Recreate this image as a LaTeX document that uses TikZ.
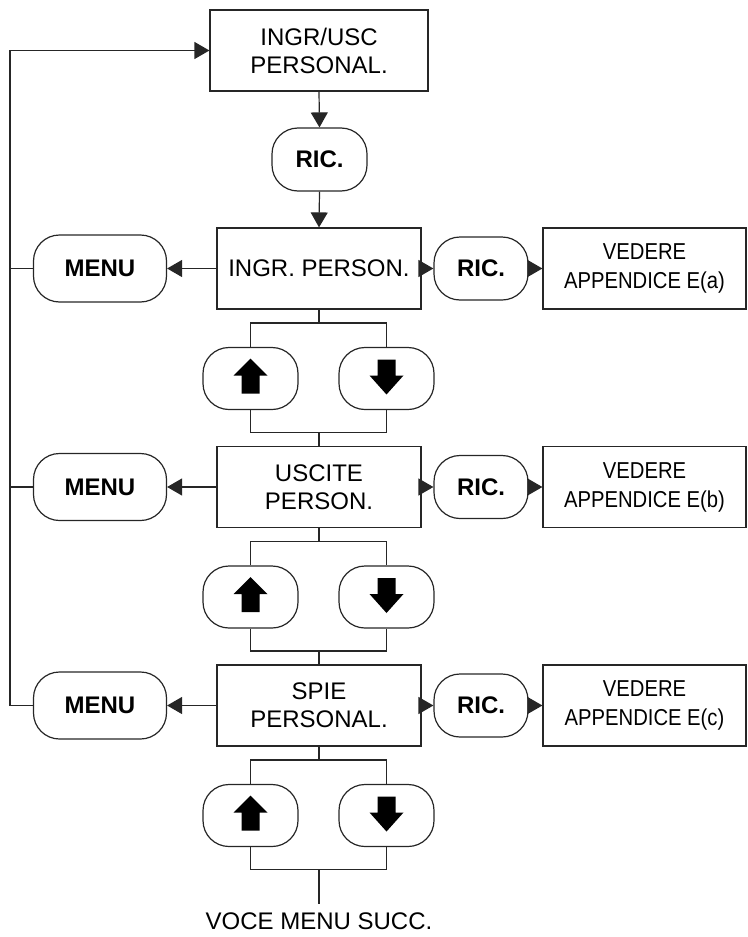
\documentclass[tikz,border=0pt]{standalone}
\usepackage{fontspec}
\setmainfont{Liberation Sans}
\newfontfamily\narrowsans[FakeStretch=0.88]{Liberation Sans}
\usetikzlibrary{arrows.meta}
\begin{document}
\begin{tikzpicture}[x=0.5pt,y=-0.5pt,
  every node/.style={font=\fontsize{12}{14}\selectfont, align=center, inner sep=0pt},
  line/.style={line width=0.6pt, draw=black!85},
  arr/.style={line, -{Triangle[length=7.5pt,width=8.5pt]}},
  rectbox/.style={draw=black!85, line width=0.6pt, minimum height=40.5pt},
  pill/.style={draw=black!85, line width=0.6pt, rounded corners=13pt, font=\fontsize{12}{14}\selectfont\bfseries},
  keybtn/.style={draw=black!85, line width=0.6pt, rounded corners=13pt, minimum width=47.5pt, minimum height=31pt},
  refbox/.style={rectbox, minimum width=101.5pt, font=\narrowsans\fontsize{11.5}{14.5}\selectfont},
  uparr/.pic={\fill (0,-20) -- (17,-3) -- (9,-3) -- (9,15) -- (-9,15) -- (-9,-3) -- (-17,-3) -- cycle;},
  downarr/.pic={\fill (-9,-19) -- (9,-19) -- (9,-3) -- (17,-3) -- (0,16) -- (-17,-3) -- (-9,-3) -- cycle;}
]
\useasboundingbox (0,0) rectangle (748,937);

% entry screen
\node[rectbox, minimum width=109pt] (top) at (319,50.5) {INGR/USC\\PERSONAL.};
\node[pill, minimum width=47.5pt, minimum height=31.5pt] (ric0) at (319.5,159.5) {RIC.};

% three menu rows
\foreach \i/\y/\txt/\suf in {1/268.5/{INGR. PERSON.}/a, 2/487/{USCITE\\PERSON.}/b, 3/705.5/{SPIE\\PERSONAL.}/c}{
  \node[rectbox, minimum width=102pt] (b\i) at (319,\y) {\txt};
  \node[pill, minimum width=66.5pt, minimum height=33.5pt] (m\i) at (100,\y) {MENU};
  \node[pill, minimum width=47pt, minimum height=31.5pt] (r\i) at (481,\y) {RIC.};
  \node[refbox] (v\i) at (644.5,\y) {VEDERE\\APPENDICE E(\suf)};
  \node[keybtn] (u\i) at (250.5,\y+110) {};
  \node[keybtn] (d\i) at (386.5,\y+110) {};
  \pic at (u\i) {uparr};
  \pic at (d\i) {downarr};
  \coordinate (bt\i) at (319,\y+54.5);
  \coordinate (bb\i) at (319,\y+164);
  \draw[arr] (b\i.west) -- (m\i.east);
  \draw[arr] (b\i.east) -- (r\i.west);
  \draw[arr] (r\i.east) -- (v\i.west);
  \draw[line] (b\i.south) -- (bt\i);
  \draw[line] (u\i.north) |- (bt\i) -| (d\i.north);
  \draw[line] (u\i.south) |- (bb\i) -| (d\i.south);
}

\draw[arr] (top.south) -- (ric0.north);
\draw[arr] (ric0.south) -- (b1.north);
\draw[line] (bb1) -- (b2.north);
\draw[line] (bb2) -- (b3.north);

% return path to the entry screen
\coordinate (lt) at (10,50.5);
\draw[arr] (m3.west) -| (lt) -- (top.west);
\draw[line] (m1.west) -- (m1.west -| lt);
\draw[line] (m2.west) -- (m2.west -| lt);

% continuation
\node (next) at (319,921) {VOCE MENU SUCC.};
\coordinate (nx) at (319,904);
\draw[line] (bb3) -- (nx);
\end{tikzpicture}
\end{document}
